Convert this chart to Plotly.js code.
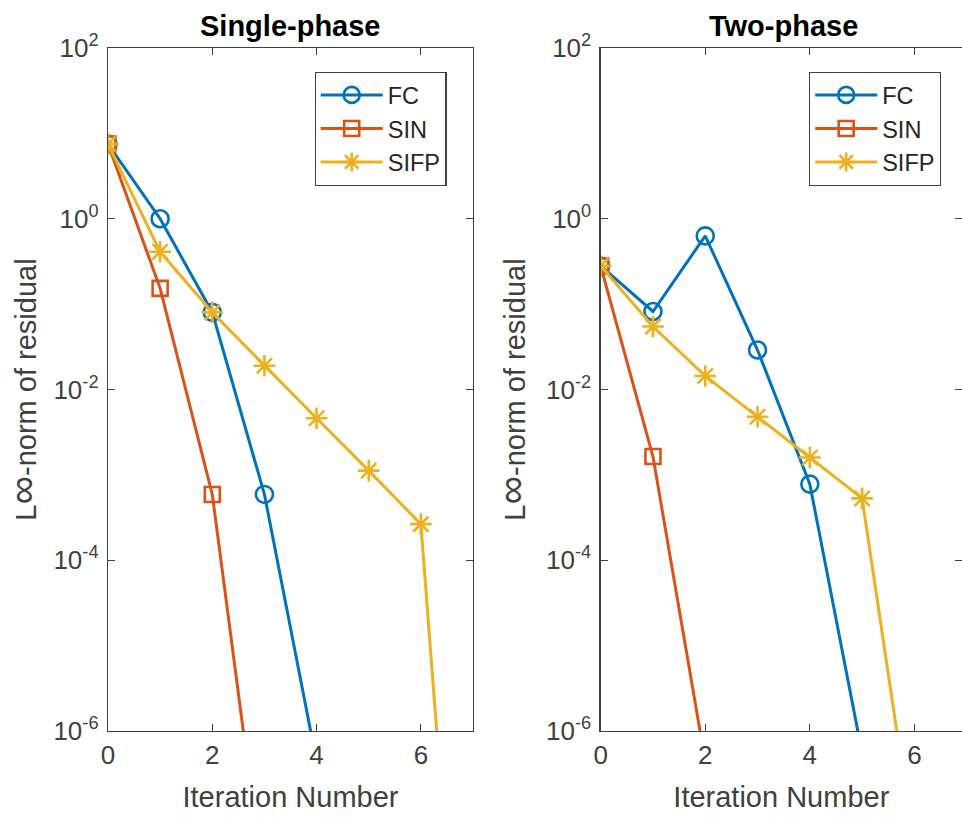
<!DOCTYPE html>
<html>
<head>
<meta charset="utf-8">
<script src="https://cdn.plot.ly/plotly-3.0.1.min.js"></script>
<style>html,body{margin:0;padding:0;background:#fff;overflow:hidden}</style>
</head>
<body>
<div id="chart" style="width:962px;height:817px"></div>
<script>
// Single-phase
const spIterFC = [0, 1, 2, 3, 4];
const spFC = [7.5, 1.0, 0.08, 5.9e-4, 4.4e-7];
const spIterSIN = [0, 1, 2, 3];
const spSIN = [7.5, 0.153, 5.9e-4, 1.3e-8];
const spIterSIFP = [0, 1, 2, 3, 4, 5, 6, 7];
const spSIFP = [7.5, 0.41, 0.08, 0.019, 4.6e-3, 1.12e-3, 2.65e-4, 2.8e-12];

// Two-phase
const tpIterFC = [0, 1, 2, 3, 4, 5];
const tpFC = [0.28, 0.082, 0.63, 0.029, 7.8e-4, 5.5e-7];
const tpIterSIN = [0, 1, 2];
const tpSIN = [0.28, 1.64e-3, 4.4e-7];
const tpIterSIFP = [0, 1, 2, 3, 4, 5, 6];
const tpSIFP = [0.28, 0.0546, 0.0144, 4.8e-3, 1.6e-3, 5.3e-4, 4.1e-8];

const seriesNames = ['FC', 'SIN', 'SIFP'];
const panelTitles = ['Single-phase', 'Two-phase'];
const xTickVals = [0, 2, 4, 6];
const yTickVals = [1e-6, 1e-4, 1e-2, 1e0, 1e2];
const yTickText = ['10<sup>-6</sup>', '10<sup>-4</sup>', '10<sup>-2</sup>', '10<sup>0</sup>', '10<sup>2</sup>'];
const xLabel = 'Iteration Number';
const yLabel = 'L<span style="font-size:40px">\u221E</span>-norm of residual';

const FONT = 'Liberation Sans, Arial, Helvetica, sans-serif';
const colors = ['#0072BD', '#D95319', '#EDB120'];
const symbols = ['circle-open', 'square-open', 'asterisk-open'];
const sizes = [17, 15, 18];

function mk(x, y, i, xa, ya, leg) {
  return {
    x: x, y: y, type: 'scatter', mode: 'lines+markers',
    name: seriesNames[i], xaxis: xa, yaxis: ya, legend: leg,
    line: {color: colors[i], width: 3},
    marker: {symbol: symbols[i], size: sizes[i], color: colors[i],
             line: {color: colors[i], width: 2.6}}
  };
}

const data = [
  mk(spIterFC, spFC, 0, 'x', 'y', 'legend'),
  mk(spIterSIN, spSIN, 1, 'x', 'y', 'legend'),
  mk(spIterSIFP, spSIFP, 2, 'x', 'y', 'legend'),
  mk(tpIterFC, tpFC, 0, 'x2', 'y2', 'legend2'),
  mk(tpIterSIN, tpSIN, 1, 'x2', 'y2', 'legend2'),
  mk(tpIterSIFP, tpSIFP, 2, 'x2', 'y2', 'legend2')
];

const axCol = '#404040';
function xax(dom, rng) {
  return {
    domain: dom, range: rng, tickvals: xTickVals, ticktext: xTickVals.map(String),
    ticks: 'inside', ticklen: 7, tickwidth: 1.2, tickcolor: axCol,
    showline: true, linecolor: axCol, linewidth: 1.3, mirror: 'ticks',
    showgrid: false, zeroline: false, automargin: false,
    tickfont: {family: FONT, size: 26, color: axCol},
    title: {text: xLabel, font: {family: FONT, size: 29, color: axCol}, standoff: 18}
  };
}
function yax(anchor) {
  return {
    type: 'log', range: [-6, 2], domain: [0, 1], anchor: anchor,
    tickvals: yTickVals, ticktext: yTickText,
    ticks: 'inside', ticklen: 7, tickwidth: 1.2, tickcolor: axCol,
    showline: true, linecolor: axCol, linewidth: 1.3, mirror: 'ticks',
    showgrid: false, zeroline: false, automargin: false,
    ticklabelstandoff: 3,
    tickfont: {family: FONT, size: 26, color: axCol},
    title: {text: yLabel, font: {family: FONT, size: 29, color: axCol}, standoff: 12}
  };
}

const x1 = xax([0, 0.4274], [0, 7]);
x1.anchor = 'y';
const x2 = xax([0.5769, 1], [0, 6.91]);
x2.anchor = 'y2';

const legBase = {
  bgcolor: '#ffffff', bordercolor: axCol, borderwidth: 1.2,
  font: {family: FONT, size: 23.5, color: '#262626'},
  xanchor: 'right', yanchor: 'top', yref: 'paper', xref: 'paper',
  itemwidth: 62, tracegroupgap: 0
};

const layout = {
  width: 962, height: 817,
  margin: {l: 108, r: 0, t: 48, b: 86},
  paper_bgcolor: '#ffffff', plot_bgcolor: '#ffffff',
  showlegend: true,
  xaxis: x1, yaxis: yax('x'),
  xaxis2: x2, yaxis2: yax('x2'),
  legend: Object.assign({}, legBase, {x: 0.3964, y: 0.965}),
  legend2: Object.assign({}, legBase, {x: 0.9754, y: 0.965}),
  annotations: panelTitles.map((t, i) => ({
    text: '<b>' + t + '</b>', xref: 'paper', xanchor: 'center',
    x: i === 0 ? 0.4274 / 2 : 0.5769 + (3.5 / 6.91) * (1 - 0.5769),
    yref: 'paper', y: 1, yanchor: 'bottom', yshift: 4, showarrow: false,
    font: {family: FONT, size: 29, color: '#000000'}
  }))
};

Plotly.newPlot('chart', data, layout, {displayModeBar: false, staticPlot: true});
</script>
</body>
</html>
